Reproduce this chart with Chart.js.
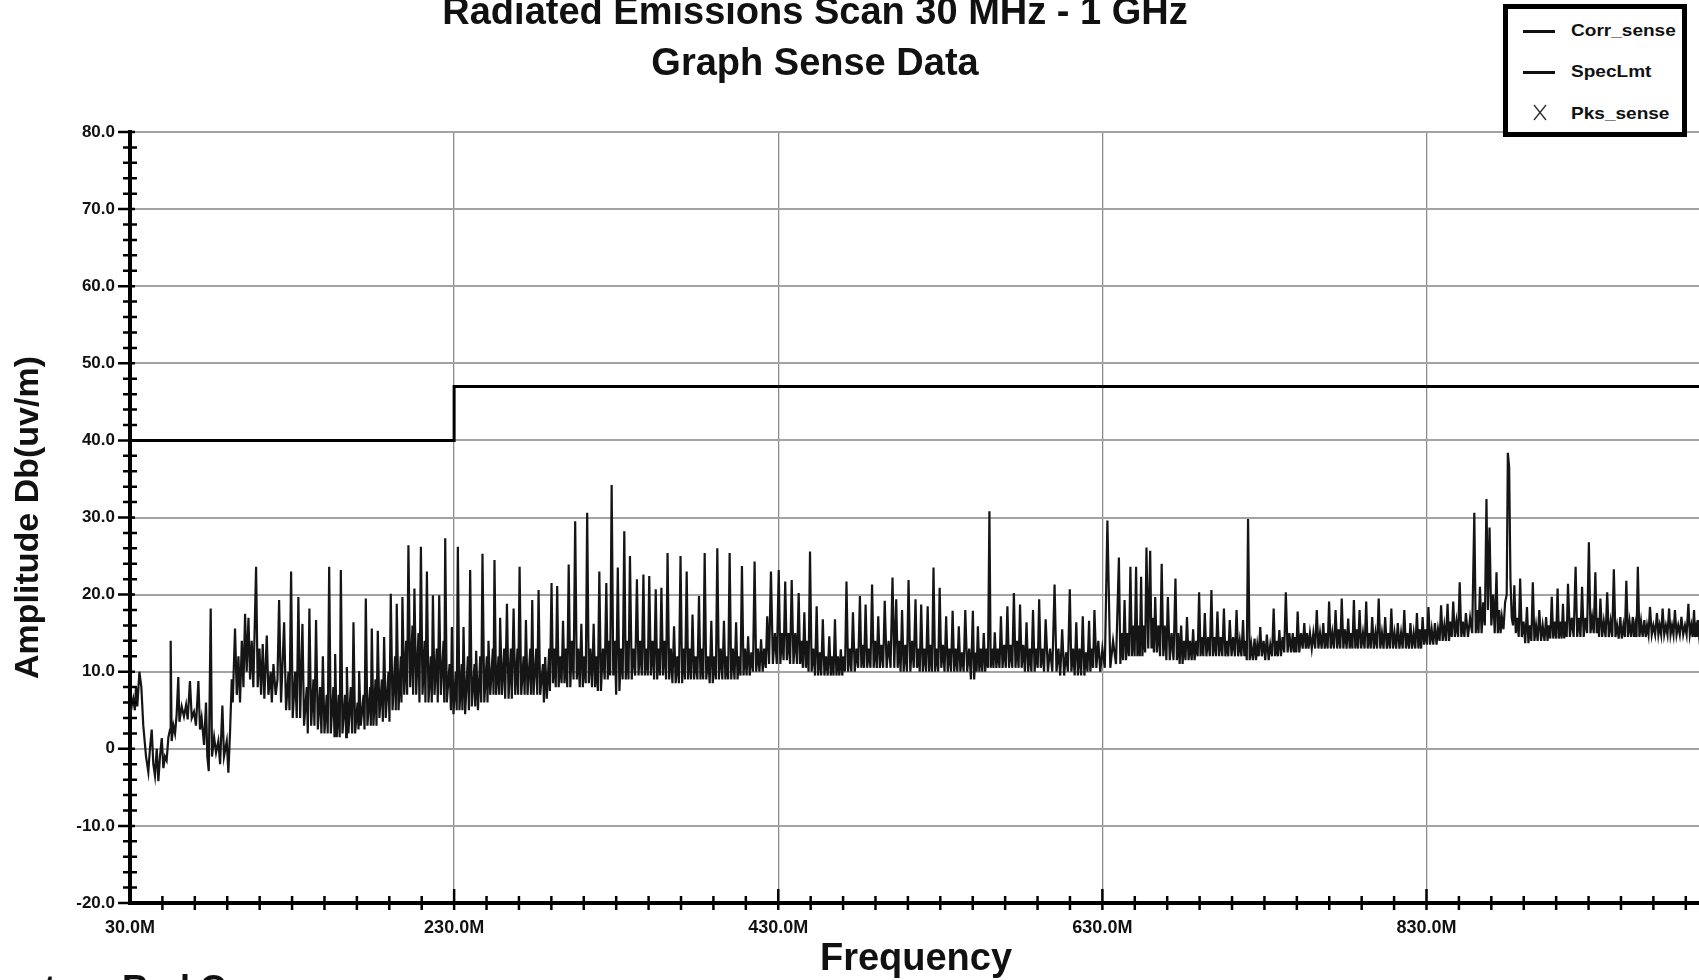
<!DOCTYPE html>
<html>
<head>
<meta charset="utf-8">
<title>Radiated Emissions Scan</title>
<script src="https://cdn.jsdelivr.net/npm/chart.js@4.4.1/dist/chart.umd.min.js"></script>
<style>
  html, body { margin: 0; padding: 0; background: #fff; overflow: hidden; }
  #wrap { position: relative; width: 1699px; height: 980px; overflow: hidden; }
  #chart { display: block; position: absolute; left: 0; top: 0; }
  .title { position: absolute; left: 0; width: 1630px; text-align: center;
           font: bold 38px "Liberation Sans", Arial, sans-serif; line-height: 38px; color: #111; }
  #legend { position: absolute; left: 1503px; top: 4px; width: 184px; height: 133px;
            border: 5px solid #000; box-sizing: border-box; background: #fff; }
  .lg-line { position: absolute; left: 15px; width: 32px; height: 3px; background: #111; }
  .lg-text { position: absolute; left: 63px; height: 20px; line-height: 20px; white-space: nowrap;
             font: bold 17px "Liberation Sans", Arial, sans-serif; color: #111;
             transform: scaleX(1.12); transform-origin: left center; }
  .footer { position: absolute; top: 971px; font: bold 36px "Liberation Sans", Arial, sans-serif;
            line-height: 36px; color: #111; white-space: nowrap; }
</style>
</head>
<body>
<div id="wrap">
  <canvas id="chart" width="1702" height="980"></canvas>
  <div class="title" style="top:-8px">Radiated Emissions Scan 30 MHz - 1 GHz</div>
  <div class="title" style="top:43px">Graph Sense Data</div>
  <div id="legend">
    <div class="lg-line" style="top:21px"></div>
    <div class="lg-text" style="top:12px">Corr_sense</div>
    <div class="lg-line" style="top:62px"></div>
    <div class="lg-text" style="top:53px">SpecLmt</div>
    <svg style="position:absolute;left:24px;top:95px" width="16" height="17">
      <line x1="2" y1="1" x2="14" y2="16" stroke="#333" stroke-width="1.4"/>
      <line x1="14" y1="1" x2="2" y2="16" stroke="#333" stroke-width="1.4"/>
    </svg>
    <div class="lg-text" style="top:95px">Pks_sense</div>
  </div>
  <div class="footer" style="left:44px">tor</div>
  <div class="footer" style="left:122px">Rad C</div>
</div>
<script>
// frequency in MHz, amplitude in dB(uV/m)
const corrLow = [
  [30.0,4],[31.0,5.5],[32.0,6.5],[33.0,5],[33.7,8],[34.5,5.5],[35.8,10],[37.0,8],[38.2,3],[39.9,-1],
  [41.3,-3],[42.3,0],[43.4,2.5],[44.4,-2],[45.4,-3.5],[46.5,0],[47.5,-4.2],[48.5,-1],[49.6,1.4],[50.6,-2.5],
  [51.6,-1],[52.6,-1.5],[53.7,1.5],[54.7,2.5],[55.1,14],[55.7,1],[56.8,3],[57.8,2],[58.8,4.5],[59.8,9.3],
  [60.5,3.5],[61.9,5.5],[63.3,4.2],[64.6,5.7],[65.6,3.8],[67.0,8.8],[68.1,4],[69.5,4.8],[70.7,3],[72.2,8.8],
  [73.2,2.5],[74.2,4],[75.7,0.5],[76.9,6],[77.7,-1],[78.6,-2.9],[79.8,18.2],[80.6,-1],[81.9,1.5],[83.1,-0.5],
  [84.5,1],[85.6,-2],[87.0,5.6],[88.0,-1],[89.7,1],[90.7,-3.1],[91.7,2],[92.8,9],[93.4,6],[94.8,15.6],
  [95.9,7],[96.9,12],[97.9,6],[99.0,14],[100.0,8],[101.0,17.5],[102.0,10],[103.1,17],[104.1,9],[105.1,14],
  [106.1,8],[107.8,23.6],[108.8,8],[109.9,13],[110.9,7],[111.9,13.6],[112.9,6.5],[114.4,14.7],[115.4,7],[116.8,10],
  [117.5,6],[118.5,11],[119.9,7],[121.0,9],[122.0,19.3],[123.2,6],[125.1,16.4],[126.3,5],[127.8,10],[128.4,5],
  [129.4,23],[130.4,4],[131.9,10],[132.9,4],[133.9,19.7],[135.0,4],[136.4,16.2],[137.4,3],[139.1,8],[139.7,2],
  [140.7,18.2],[141.8,3],[143.2,9],[143.8,3],[144.8,16.7],[145.9,2.5],[147.3,8],[148.1,2],[149.0,12],[150.0,2],
  [151.4,7],[152.0,2],[152.9,23.6],[153.9,2],[155.5,8],[156.2,1.5],[156.6,12.3],[157.6,1.5],[158.8,7],[159.4,1.5],
  [160.1,23.2],[161.1,2],[162.7,7],[163.4,1.5],[163.8,10.6],[164.8,2],[166.2,8],[167.1,2],[167.9,16.4],[168.9,2],
  [170.4,6],[171.0,2.5],[171.4,10.1],[172.4,3],[174.1,7],[174.7,2.5],[175.5,19.5],[176.5,3],[178.2,8],[178.6,3],
  [179.2,15.6],[180.2,3],[181.5,9],[182.1,3],[182.9,15.3],[183.9,4],[185.4,9],[186.0,3.5],[186.8,14.5],[187.8,4],
  [189.5,10],[190.1,3.5],[190.9,20.1],[192.0,5],[193.6,12],[194.0,5],[194.6,18.8],[195.7,5],[197.1,12],[197.5,6],
  [198.1,19.7],[199.2,7],[200.4,14],[201.0,7],[201.8,26.4],[202.9,8],[204.3,16],[204.7,7],[205.5,20.8],[206.6,7],
  [208.0,15],[208.6,6],[209.5,26.2],[210.5,7],[211.8,14],[212.3,6],[213.2,23],[214.2,6],[215.6,12],[216.2,6],
  [216.9,19.9],[217.9,7],[219.3,13],[219.9,6],[220.8,19.9],[221.8,7],[223.5,14],[223.9,6],[224.5,27.3],[225.5,6],
  [227.2,11],[228.0,5],[228.6,15.8],[229.6,4.5],[231.0,10],[231.6,5],[232.3,26.2],[233.3,5],[234.7,11],[235.1,5],
  [235.8,15.8],[236.8,4.5],[238.5,12],[239.1,5],[239.9,23.2],[240.9,5.5],[242.6,11],[243.0,5.5],[243.6,12.7],[244.7,5],
  [246.1,12],[246.7,6],[247.5,25.3],[248.6,6],[250.2,12],[250.6,6],[251.2,14],[252.3,7],[253.9,13],[254.3,7],
  [254.9,24.5],[255.9,7],[257.4,12],[257.8,7],[258.4,17],[259.5,7],[260.9,13],[261.5,6.5],[262.6,18.8],[263.6,6.5],
  [265.0,13],[265.6,6.5],[266.7,18.2],[267.7,7],[269.1,13],[269.5,7],[270.4,23.6],[271.4,7],[272.9,12],[273.5,7],
  [274.3,16.7],[275.3,7],[277.0,13],[277.4,7],[278.2,19.3],[279.0,7],[280.7,13],[281.3,7],[282.1,20.6],[283.1,7],
  [284.8,11],[285.4,6],[286.2,11.9],[287.2,6.5],[288.7,13],[289.1,7.5]
];

const corrMid = [
  [290.1,21.5],[291.0,8.5],[291.9,13],[292.7,8],[293.6,21.1],[294.5,8],[295.4,12],[296.3,8.5],
  [297.2,16.6],[298.1,8.5],[299.0,13],[299.8,8],[300.7,23.9],[301.7,8],[302.7,14],[303.7,9],
  [304.7,29.5],[305.7,9],[306.6,13],[307.5,8],[308.5,16.2],[309.4,8],[310.3,12],[311.2,8.5],
  [312.1,30.6],[313.1,8.5],[314.1,13],[315.1,8],[316.1,16.2],[317.0,8],[317.9,12],[318.7,7.5],
  [319.6,23.0],[320.6,7.5],[321.8,13],[322.9,9],[323.9,21.5],[324.8,9],[325.5,14],[326.3,9.5],
  [327.2,34.2],[328.2,9.5],[329.1,14],[330.0,7],[331.0,23.5],[332.0,7.5],[333.0,13],[334.0,9],
  [335.0,28.2],[335.9,9],[336.7,14],[337.6,9],[338.5,25.0],[339.6,9],[340.6,13],[341.7,9.5],
  [342.8,22.0],[343.8,9.5],[344.8,14],[345.8,9.5],[346.8,22.6],[347.7,9.5],[348.6,13],[349.5,9.5],
  [350.4,22.4],[351.4,9.5],[352.4,14],[353.4,9],[354.4,20.7],[355.3,9],[356.1,13],[357.0,9.5],
  [357.9,20.9],[358.9,9.5],[359.8,14],[360.8,9],[361.7,25.4],[362.7,9],[363.7,13],[364.7,8.5],
  [365.7,15.9],[366.7,8.5],[367.7,12],[368.7,8.5],[369.7,25.0],[370.7,8.5],[371.6,13],[372.5,9],
  [373.5,23.0],[374.4,9],[375.3,13],[376.2,9],[377.1,17.4],[378.1,9],[379.1,12],[380.1,9],
  [381.1,19.8],[382.0,9],[382.8,13],[383.7,9],[384.6,25.4],[385.6,9],[386.7,12],[387.7,8.5],
  [388.7,16.6],[389.6,8.5],[390.5,12],[391.5,9],[392.4,26.0],[393.4,9],[394.5,13],[395.5,9],
  [396.5,16.6],[397.4,9],[398.2,12],[399.1,9],[400.0,25.4],[401.0,9],[402.0,13],[403.0,9],
  [404.0,16.4],[404.9,9],[405.8,12],[406.7,9.5],[407.6,23.7],[408.6,9.5],[409.5,13],[410.5,9.5],
  [411.4,14.6],[412.4,9.5],[413.4,12.5],[414.4,10],[415.4,24.3],[416.4,10],[417.4,13],[418.4,10],
  [419.4,14.2],[420.4,10],[421.3,13],[422.3,10.5],[423.2,17.2],[424.3,11],
  [425.5,23.0],[426.7,11],[427.9,15],[429.1,11],[430.3,23.2],[431.3,11],[432.3,15],[433.3,11.5],
  [434.3,21.7],[435.3,11.5],[436.3,15],[437.3,11],[438.3,21.9],[439.4,11],[440.5,15],[441.6,11],
  [442.6,20.2],[443.5,11],[444.3,14],[445.2,10.5],[446.1,17.7],[447.0,10.5],[447.8,14],[448.7,10],
  [449.6,25.6],[450.6,10],[451.6,13],[452.7,9.5],[453.7,18.5],[454.6,9.5],[455.6,12.5],[456.5,9.5],
  [457.5,16.8],[458.5,9.5],[459.5,12],[460.5,9.5],[461.5,14.6],[462.4,9.5],[463.2,12],[464.1,9.5],
  [465.0,16.8],[465.9,9.5],[466.8,12],[467.7,9.5],[468.6,12.9],[469.5,9.5],[470.3,12],[471.2,10],
  [472.1,21.7],[473.1,10],[474.1,13],[475.1,10],[476.1,17.7],[477.2,10],[478.3,13],[479.3,10.5],
  [480.4,19.8],[481.3,10.5],[482.1,13.5],[483.0,10.5],[483.9,18.7],[484.9,10.5],[485.9,13],[486.9,10.5],
  [487.9,21.3],[488.9,10.5],[489.8,14],[490.8,10.5],[491.7,17.2],[492.7,10.5],[493.7,13.5],[494.7,10.5],
  [495.7,19.2],[496.9,10.5],[498.1,14],[499.3,10.5],[500.5,22.2],[501.6,10.5],
  [502.8,19.4],[503.7,10.5],[504.6,14],[505.5,10],[506.4,18.0],[507.4,10],[508.4,13.5],[509.4,10],
  [510.4,21.9],[511.5,10],[512.6,14],[513.6,10.5],[514.7,19.4],[515.6,10.5],[516.4,13],[517.3,10],
  [518.2,18.7],[519.2,10],[520.2,13],[521.2,10],[522.2,18.5],[523.1,10],[524.0,13.5],[524.9,10],
  [525.8,23.5],[526.8,10],[527.7,13],[528.7,10],[529.6,20.9],[530.6,10.5],[531.6,13.5],[532.6,10],
  [533.6,17.2],[534.6,10],[535.6,13],[536.6,10],[537.6,17.9],[538.6,10],[539.5,13],[540.5,10],
  [541.4,15.9],[542.4,10],[543.4,12.5],[544.4,10],[545.4,18.0],[546.6,10],[547.8,13],[548.9,9],
  [550.1,17.9],[550.9,9],[551.6,12.5],[552.4,10],[553.2,15.9],[554.1,10],[555.0,13],[555.9,10],
  [556.8,15.0],[557.7,10],[558.6,13],[559.4,10.5],[560.3,30.8],[561.1,10.5],[562.0,13],[562.8,10.5],
  [563.6,15.1],[564.6,10.5],[565.5,13],[566.5,10.5],[567.4,17.2],[568.4,10.5],[569.4,13.5],[570.4,10.5],
  [571.4,18.5],[572.4,10.5],[573.4,13.5],[574.4,10.5],[575.4,20.2],[576.4,10.5],[577.3,14],[578.3,10.5],
  [579.2,18.7],[580.2,10.5],[581.2,13.5],[582.2,10],[583.2,16.4],[584.2,10],[585.2,13],[586.2,10],
  [587.2,18.0],[588.2,10],[589.1,13],[590.1,10.5],[591.0,19.4],[592.0,10.5],[593.0,13],[594.0,10],
  [595.0,16.8],[596.4,10],[597.7,13],[599.1,10],[600.5,21.3],[601.7,10],[602.9,13],[604.0,9.5],
  [605.2,15.5],[606.4,9.5],[607.6,12.5],[608.7,10],[609.9,20.7],[610.9,10],[611.9,13],[612.9,9.5],
  [613.9,16.4],[614.9,9.5],[615.9,13],[616.9,9.5],[617.9,17.2],[618.9,9.5],[619.9,12.5],[620.8,10],
  [621.8,16.6],[622.6,10],[623.5,13],[624.3,10.5],[625.1,18.0],[626.3,10.5],[627.5,14],[628.7,10],
  [630.0,13],[631.5,10.5]
];

const corrHigh = [
  [633.1,29.6],[634.9,10.5],[636.6,14],[638.4,11],[640.2,24.8],[641.1,11],[642.0,15],[642.8,11.5],
  [643.7,19.3],[644.6,11.5],[645.5,15],[646.4,12],[647.3,23.6],[648.2,12],[649.1,16],[649.9,12],
  [650.8,23.6],[651.6,12],[652.3,16],[653.1,12],[653.9,22.3],[654.7,12],[655.6,16],[656.4,12.5],
  [657.2,26.1],[658.3,13],[659.5,25.7],[660.3,13],[661.0,17],[661.8,12.5],
  [662.6,19.7],[663.6,12.5],[664.6,16],[665.6,12],[666.6,24.0],[667.6,12],[668.5,16],[669.5,11.5],
  [670.4,19.7],[671.6,11.5],[672.7,15],[673.9,11.5],[675.1,22.1],[676.0,11.5],[676.8,15],[677.7,11],
  [678.6,16.0],[679.5,11],[680.4,14],[681.3,11.5],[682.2,17.1],[683.2,11.5],[684.1,14],[685.1,11.5],
  [686.0,15.5],[686.9,11.5],[687.9,14],[688.8,12],[689.7,20.3],[690.6,12],[691.4,14.5],[692.3,12],
  [693.2,17.6],[694.2,12],[695.3,14.5],[696.3,12],[697.3,20.6],[698.2,12],[699.2,14.5],[700.1,12],
  [701.0,17.8],[702.0,12],[703.0,14.5],[704.0,12],[705.0,18.2],[705.9,12],[706.8,14],[707.7,12],
  [708.6,16.7],[709.7,12],[710.7,14.5],[711.8,12],[712.8,18.0],[713.8,12],[714.8,14],[715.8,12],
  [716.8,16.7],[717.6,12],[718.4,14],[719.1,11.5],[719.9,29.8],[720.9,11.5],[721.9,13.5],[722.9,11.5],
  [723.9,14.3],[724.8,11.5],[725.6,13.5],[726.5,12],[727.4,15.8],[728.4,12],[729.5,14],[730.5,11.5],
  [731.5,14.8],[732.6,11.5],[733.6,13.5],[734.7,12],[735.7,18.2],[736.6,12],[737.4,14],[738.3,12],
  [739.2,15.4],[740.2,12],[741.2,14.5],[742.2,12.5],[743.2,20.3],[744.3,12.5],[745.4,15],[746.4,12.5],
  [747.5,15.0],[748.2,12.5],[749.0,14.5],[749.7,12.5],[750.5,17.8],[751.5,12.5],[752.6,15],[753.6,13],
  [754.6,16.3],[755.5,13],[756.3,15],[757.2,13],[758.1,15.0],[759.2,13],[760.2,15],[761.3,13],
  [762.3,18.0],[763.3,13],[764.3,15],[765.3,13],[766.3,16.3],[767.2,13],[768.1,15],[769.0,13],
  [769.9,19.1],[770.9,13],[771.9,15],[772.9,13],[773.9,18.0],[774.9,13],[775.8,15.5],[776.8,13],
  [777.7,19.5],[778.7,13],[779.7,15.5],[780.7,13],[781.7,16.9],[782.6,13],[783.4,15],[784.3,13],
  [785.2,19.3],[786.1,13],[787.0,15.5],[787.8,13],[788.7,18.0],[789.7,13],[790.8,15],[791.8,13],
  [792.8,19.1],[793.7,13],[794.7,15],[795.6,13],[796.5,17.1],[797.5,13],[798.5,15],[799.5,13],
  [800.5,19.5],[801.5,13],[802.5,15],[803.5,13],[804.5,17.1],[805.5,13],[806.4,15],[807.4,13],
  [808.3,18.2],[809.3,13],[810.3,15],[811.3,13],[812.3,16.3],[813.3,13],[814.3,15],[815.3,13],
  [816.3,18.0],[817.3,13],[818.2,15],[819.2,13],[820.1,16.3],[821.1,13],[822.1,15],[823.1,13],
  [824.1,17.6],[825.0,13],[825.8,15.5],[826.7,13],[827.6,17.1],[828.5,13.5],[829.4,15.5],[830.3,13.5],
  [831.2,18.4],[832.2,13.5],[833.2,15.5],[834.2,13.5],[835.2,16.3],[836.2,13.5],[837.1,15.5],[838.1,14],
  [839.0,18.6],[840.0,14],[841.0,16],[842.0,14],[843.0,18.8],[843.9,14],[844.7,16.5],[845.6,14.5],
  [846.5,19.1],[847.5,14.5],[848.5,16.5],[849.5,14.5],[850.5,21.6],[851.5,14.5],[852.4,16.5],[853.4,14.5],
  [854.3,17.6],[855.6,14.5],[856.9,17],[858.2,15],[859.5,30.6],[860.4,15],[861.3,18],[862.1,15],
  [863.0,21.0],[864.0,15],[865.0,19],[866.0,16],[867.0,32.4],[867.9,18],[868.9,28.7],[870.0,16],
  [871.1,20],[872.1,15],[873.2,22.9],[874.0,15],[874.9,18],[875.7,15],[876.5,17.1],[877.5,15.5],
  [878.5,19],[879.5,20],[880.2,38.4],[881.0,36.5],[881.8,22],[882.6,17],[883.4,16],
  [884.2,21.2],[885.1,15],[886.0,17],[886.9,14.5],[887.8,22.1],[888.8,14.5],[889.9,16.5],[890.9,13.7],
  [892.0,18.4],[892.9,13.7],[893.8,16],[894.7,14],[895.6,21.6],[896.6,14],[897.6,16],[898.6,14],
  [899.6,18.0],[900.7,14],[901.7,16],[902.8,14],[903.8,17.1],[904.7,14],[905.5,16],[906.4,14.3],
  [907.3,19.7],[908.2,14.3],[909.1,16.5],[910.0,14.3],[910.9,20.8],[911.7,14.3],[912.6,16.5],[913.4,14.3],
  [914.2,18.8],[915.0,14.3],[915.7,16.5],[916.5,14.5],[917.3,21.4],[918.5,14.5],[919.6,17],[920.8,14.5],
  [922.0,23.6],[923.0,14.5],[924.0,17],[925.0,14.5],[926.0,21.0],[927.0,14.5],[928.1,17],[929.1,15],
  [930.2,26.8],[931.2,15],[932.2,17],[933.2,15],[934.2,22.9],[935.0,15],[935.7,17],[936.5,14.5],
  [937.3,19.5],[938.4,14.5],[939.4,16.5],[940.5,14.5],[941.5,20.3],[942.5,14.5],[943.6,16.5],[944.6,14.5],
  [945.6,23.3],[946.6,14.5],[947.6,16],[948.6,14.3],[949.6,17.1],[950.5,14.3],[951.5,16],[952.4,14.5],
  [953.3,21.8],[954.3,14.5],[955.3,16.5],[956.3,14.5],[957.3,17.1],[958.1,14.5],[958.8,16],[959.6,14.5],
  [960.4,23.6],[961.4,14.5],[962.4,16.5],[963.4,14.5],[964.4,16.7],[965.3,14.5],[966.1,16],[967.0,14.8],
  [967.9,18.4],[969.0,14.8],[970.0,16],[971.1,14.8],[972.2,17.6],[973.1,14.8],[973.9,16],[974.8,14.8],
  [975.7,18.2],[976.7,14.8],[977.7,16],[978.7,14.8],[979.7,18.2],[980.6,14.8],[981.5,16],[982.4,14.8],
  [983.3,18.0],[984.3,14.8],[985.3,16],[986.3,14.8],[987.3,17.1],[988.4,14.8],[989.5,16],[990.5,14.8],
  [991.6,18.8],[992.5,14.8],[993.4,16],[994.2,14.5],[995.1,18.0],[995.7,14.5],[996.3,15.5],[996.8,14.5],
  [997.4,16.7],[998.3,14.5],[999.2,15.5],[1000.0,15]
];

// limit line: 40 dB up to 230 MHz, 47 dB above
const specFreq = [30, 230, 230, 1000];
const specAmp = [40, 40, 47, 47];

// no peak markers appear on this plot
const pksSense = [];

const xMajor = [30, 230, 430, 630, 830];
const xLabels = ['30.0M', '230.0M', '430.0M', '630.0M', '830.0M'];
const yMajor = [80, 70, 60, 50, 40, 30, 20, 10, 0, -10, -20];
const yLabels = ['80.0', '70.0', '60.0', '50.0', '40.0', '30.0', '20.0', '10.0', '0', '-10.0', '-20.0'];

const corrSense = corrLow.concat(corrMid, corrHigh).map(p => ({ x: p[0], y: p[1] }));
const specLmt = specFreq.map((f, i) => ({ x: f, y: specAmp[i] }));

// minor x ticks every 20 MHz
const xTickValues = [];
for (let f = 30; f < 1000; f += 20) xTickValues.push(f);

const FONT = '"Liberation Sans", Arial, sans-serif';

// tick marks that cross the axis lines
const crossTicks = {
  id: 'crossTicks',
  afterDraw(chart) {
    const { ctx, scales: { x, y } } = chart;
    ctx.save();
    ctx.strokeStyle = '#000';
    ctx.lineWidth = 2.5;
    ctx.beginPath();
    x.ticks.forEach(t => {
      if (t.value === 30) return;
      const px = x.getPixelForValue(t.value);
      const major = xMajor.includes(t.value);
      ctx.moveTo(px, x.top - (major ? 14 : 7));
      ctx.lineTo(px, x.top + 7);
    });
    y.ticks.forEach(t => {
      const py = y.getPixelForValue(t.value);
      const major = yMajor.includes(t.value);
      ctx.moveTo(y.right - (major ? 12 : 7), py);
      ctx.lineTo(y.right + (major ? 5 : 7), py);
    });
    ctx.stroke();
    ctx.restore();
  }
};

new Chart(document.getElementById('chart'), {
  type: 'line',
  data: {
    datasets: [
      { label: 'Corr_sense', data: corrSense, borderColor: '#151515', borderWidth: 2.2,
        pointRadius: 0, tension: 0 },
      { label: 'SpecLmt', data: specLmt, borderColor: '#000', borderWidth: 3,
        pointRadius: 0, tension: 0 },
      { label: 'Pks_sense', data: pksSense, showLine: false, pointStyle: 'crossRot',
        pointRadius: 6, borderColor: '#333' }
    ]
  },
  options: {
    responsive: false,
    animation: false,
    layout: { padding: { top: 132, left: 0, right: 0, bottom: 0 } },
    plugins: { legend: { display: false }, tooltip: { enabled: false } },
    scales: {
      x: {
        type: 'linear',
        min: 30,
        max: 1000,
        afterBuildTicks: s => { s.ticks = xTickValues.map(v => ({ value: v })); },
        afterFit: s => { s.height = 77; },
        ticks: {
          autoSkip: false,
          maxRotation: 0,
          padding: 14,
          color: '#111',
          font: { family: FONT, size: 18, weight: 'bold' },
          callback: v => { const i = xMajor.indexOf(v); return i >= 0 ? xLabels[i] : ''; }
        },
        grid: {
          drawTicks: false,
          lineWidth: 1.3,
          color: c => xMajor.includes(c.tick.value) ? '#8c8c8c' : 'rgba(0,0,0,0)'
        },
        border: { display: true, color: '#000', width: 4 },
        title: {
          display: true,
          text: 'Frequency',
          color: '#111',
          font: { family: FONT, size: 38, weight: 'bold', lineHeight: 1 },
          padding: { top: 0, bottom: 1 }
        }
      },
      y: {
        min: -20,
        max: 80,
        afterFit: s => { s.width = 130; },
        ticks: {
          stepSize: 2,
          autoSkip: false,
          padding: 15,
          color: '#111',
          font: { family: FONT, size: 17, weight: 'bold' },
          callback: v => { const i = yMajor.indexOf(v); return i >= 0 ? yLabels[i] : ''; }
        },
        grid: {
          drawTicks: false,
          lineWidth: 2,
          color: c => yMajor.includes(c.tick.value) ? '#a3a3a3' : 'rgba(0,0,0,0)'
        },
        border: { display: true, color: '#000', width: 4 },
        title: {
          display: true,
          text: 'Amplitude Db(uv/m)',
          color: '#111',
          font: { family: FONT, size: 34, weight: 'bold' },
          padding: { top: 8, bottom: 0 }
        }
      }
    }
  },
  plugins: [crossTicks]
});
</script>
</body>
</html>
